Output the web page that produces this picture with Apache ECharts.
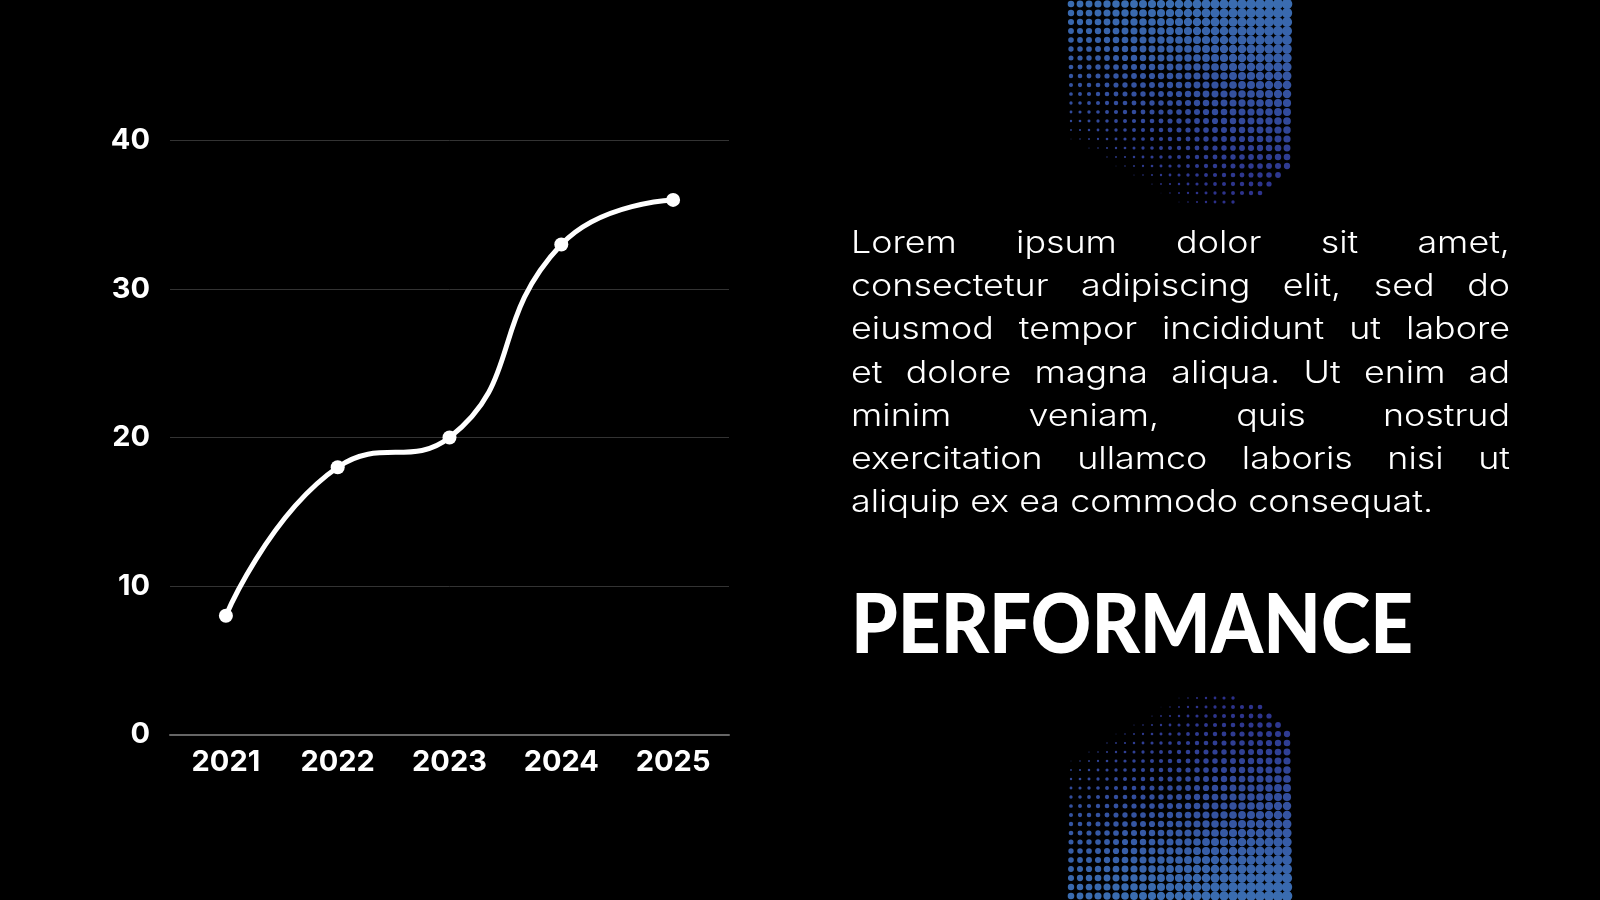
<!DOCTYPE html>
<html lang="en">
<head>
    <meta charset="UTF-8">
    <title>Performance</title>
    <script src="https://cdn.jsdelivr.net/npm/echarts@6/dist/echarts.min.js"></script>
    <style>
        html, body {
            margin: 0;
            padding: 0;
            background: #000;
        }
        #wrapper {
            position: relative;
            width: 1600px;
            height: 900px;
            overflow: hidden;
            background: #000;
        }
        #chart {
            position: absolute;
            left: 0;
            top: 0;
            width: 1600px;
            height: 900px;
        }
        #para {
            position: absolute;
            left: 851px;
            top: 220px;
            width: 659px;
            color: #fff;
            font-family: Inter, "Open Sans", sans-serif;
            font-weight: 300;
            font-size: 31px;
            line-height: 43.2px;
            transform-origin: 0 0;
        }
        #para .ln {
            text-align: justify;
            text-align-last: justify;
        }
        #para .ln.last {
            text-align: left;
            text-align-last: left;
        }
        #title {
            position: absolute;
            left: 851px;
            top: 580px;
            color: #fff;
            font-family: Lato, Inter, sans-serif;
            font-weight: 900;
            font-size: 82px;
            line-height: 82px;
            white-space: nowrap;
            transform-origin: 0 0;
        }
    </style>
</head>
<body>
<div id="wrapper">
    <div id="chart"></div>
    <div id="para">
        <div class="ln">Lorem ipsum dolor sit amet,</div>
        <div class="ln">consectetur adipiscing elit, sed do</div>
        <div class="ln">eiusmod tempor incididunt ut labore</div>
        <div class="ln">et dolore magna aliqua. Ut enim ad</div>
        <div class="ln">minim veniam, quis nostrud</div>
        <div class="ln">exercitation ullamco laboris nisi ut</div>
        <div class="ln last">aliquip ex ea commodo consequat.</div>
    </div>
    <div id="title"><span id="titleText">PERFORMANCE</span></div>
</div>
<script type="text/javascript">
    // data
    var years = ['2021', '2022', '2023', '2024', '2025'];
    var values = [8, 18, 20, 33, 36];
    var yMin = 0;
    var yMax = 40;
    var yStep = 10;

    var labelFont = 'Inter, "Open Sans", sans-serif';

    // widen the paragraph glyphs so the last line and the heading match the picture
    (function () {
        var para = document.getElementById('para');
        var last = document.querySelector('#para .ln.last');
        var probe = document.createElement('span');
        probe.textContent = last.textContent;
        last.textContent = '';
        last.appendChild(probe);
        var w = probe.getBoundingClientRect().width;
        if (w > 0) {
            var k = 582 / w;
            para.style.width = (659 / k).toFixed(2) + 'px';
            para.style.transform = 'scaleX(' + k.toFixed(4) + ')';
        }
        var t = document.getElementById('titleText');
        var tw = t.getBoundingClientRect().width;
        if (tw > 0) {
            document.getElementById('title').style.transform = 'scaleX(' + (562 / tw).toFixed(4) + ')';
        }
    })();

    // halftone dot decoration (top and bottom blocks)
    function halftone(flip) {
        var dots = [];
        var x0 = 1071, step = 9, cols = 25, rows = 23;
        var top = [58, 108, 176], bot = [44, 48, 138];
        var rx = 70, ry = 55, ccx = 1292 - rx, ccy = 204 - ry;
        for (var i = 0; i < rows; i++) {
            for (var j = 0; j < cols; j++) {
                var x = x0 + j * step;
                var y = 4 + i * step;
                var u = j / (cols - 1);
                var v = i / (rows - 1);
                if (x > ccx && y > ccy) {
                    var ex = (x - ccx) / rx, ey = (y - ccy) / ry;
                    if (ex * ex + ey * ey > 1) continue;
                }
                var v0 = 0.7 + 0.64 * u;
                var s = 1 - v / v0;
                if (s <= 0.01) continue;
                s = Math.pow(s, 0.55);
                var r = (3.3 + 2 * u) * s;
                if (r < 0.35) continue;
                var c = [0, 1, 2].map(function (k) {
                    return Math.round(top[k] + (bot[k] - top[k]) * v);
                });
                dots.push({
                    type: 'circle',
                    silent: true,
                    z: 1,
                    shape: {cx: x, cy: flip ? 900 - y : y, r: r},
                    style: {fill: 'rgb(' + c.join(',') + ')'}
                });
            }
        }
        return dots;
    }

    var myChart = echarts.init(document.getElementById('chart'));

    var option = {
        backgroundColor: '#000',
        animation: false,
        grid: {
            left: 170,
            right: 871,
            top: 140.5,
            bottom: 165.5
        },
        xAxis: {
            type: 'category',
            data: years,
            boundaryGap: true,
            axisLine: {
                show: true,
                lineStyle: {color: '#666', width: 2}
            },
            axisTick: {show: false},
            axisLabel: {
                color: '#fff',
                fontFamily: labelFont,
                fontWeight: 'bold',
                fontSize: 29,
                margin: 13
            },
            splitLine: {show: false}
        },
        yAxis: {
            type: 'value',
            min: yMin,
            max: yMax,
            interval: yStep,
            axisLine: {show: false},
            axisTick: {show: false},
            axisLabel: {
                color: '#fff',
                fontFamily: labelFont,
                fontWeight: 'bold',
                fontSize: 29,
                margin: 20,
                padding: [7, 0, 0, 0]
            },
            splitLine: {
                lineStyle: {color: '#333', width: 1}
            }
        },
        series: [{
            type: 'line',
            data: values,
            smooth: 0.5,
            symbol: 'circle',
            symbolSize: 14,
            showSymbol: true,
            lineStyle: {color: '#fff', width: 5},
            itemStyle: {color: '#fff'},
            z: 3
        }],
        graphic: halftone(false).concat(halftone(true))
    };

    myChart.setOption(option);
</script>
</body>
</html>
